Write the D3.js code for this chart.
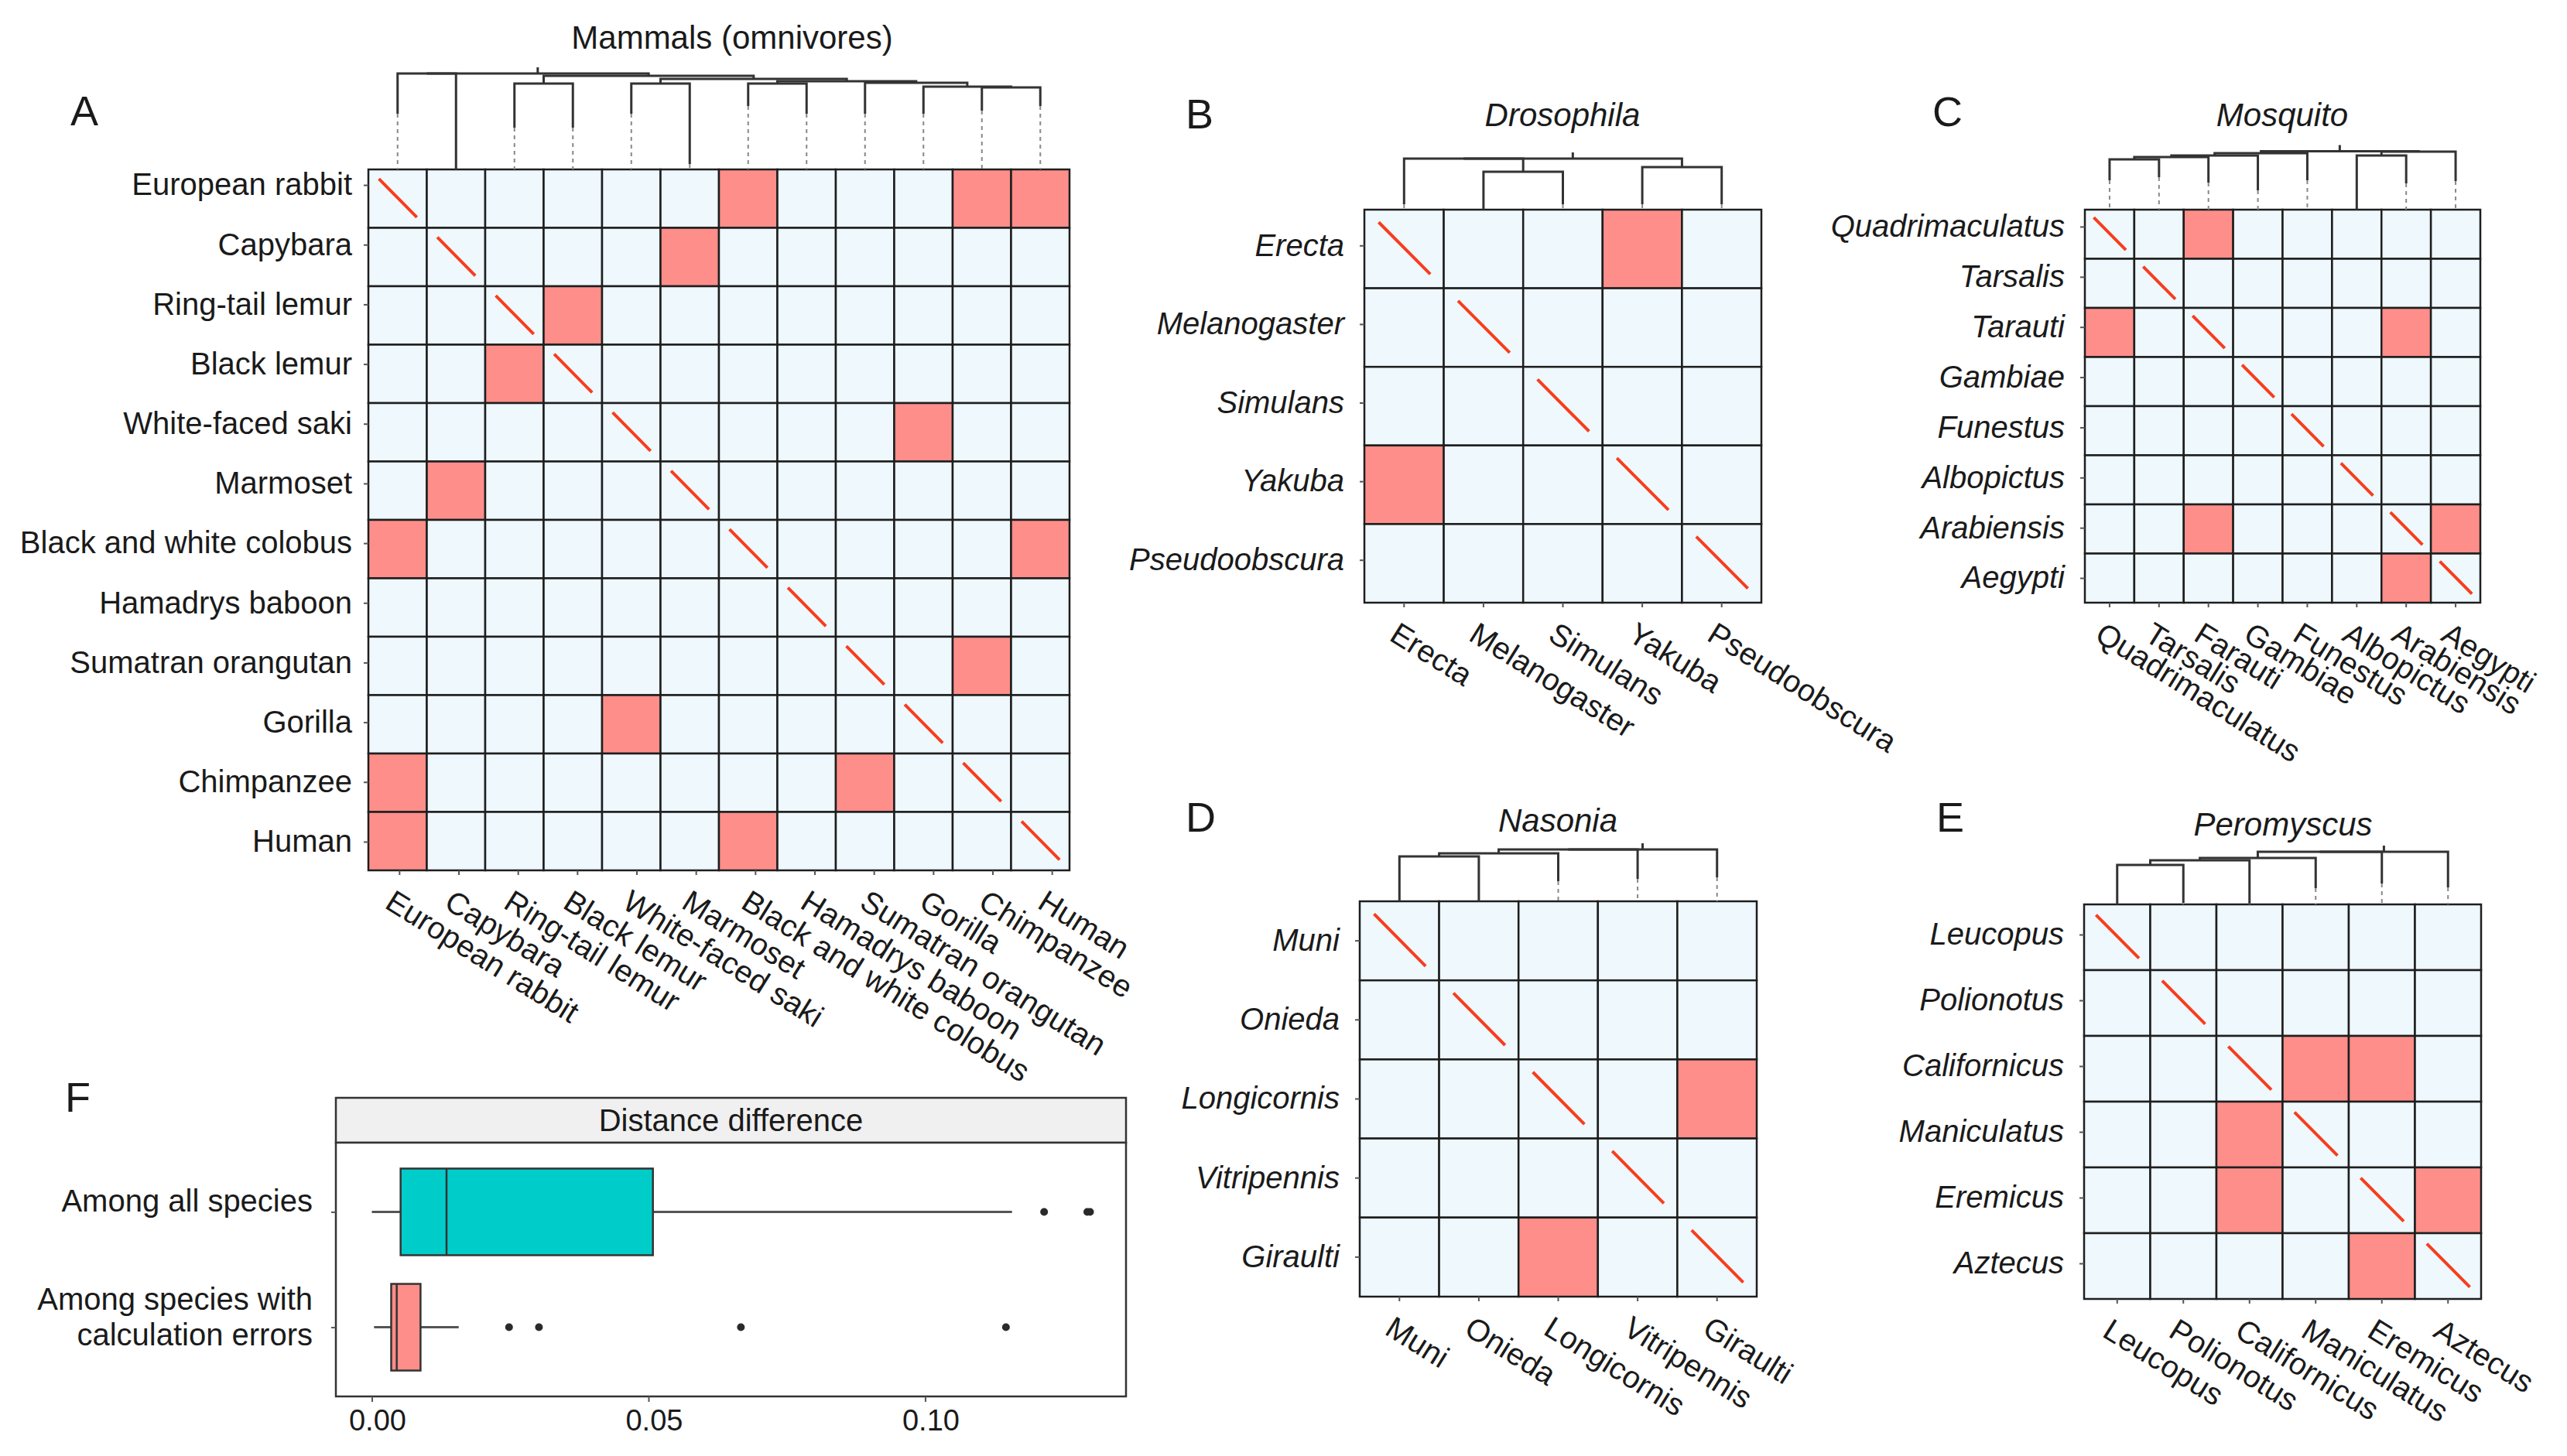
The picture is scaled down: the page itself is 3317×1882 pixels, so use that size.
<!DOCTYPE html>
<html>
<head>
<meta charset="utf-8">
<script src="https://cdn.jsdelivr.net/npm/d3@7"></script>
<style>
body { margin: 0; background: #fff; }
text { font-family: "Liberation Sans", Arial, sans-serif; fill: #1a1a1a; }
</style>
</head>
<body>
<svg id="fig" width="3317" height="1882"></svg>
<script>
// Calculation-error heatmaps with dendrograms, plus distance boxplot

var PINK = "#fd8e89";
var BLUE = "#eef8fd";
var TEAL = "#00cdc9";
var DIAG = "#f83d1c";
var INK = "#1e1e1e";

// ---- panel A: mammals
var mammals = ["European rabbit", "Capybara", "Ring-tail lemur", "Black lemur",
    "White-faced saki", "Marmoset", "Black and white colobus", "Hamadrys baboon",
    "Sumatran orangutan", "Gorilla", "Chimpanzee", "Human"];
var mammalErrors = [[0, 6], [0, 10], [0, 11], [1, 5], [2, 3], [3, 2], [4, 9], [5, 1],
    [6, 0], [6, 11], [8, 10], [9, 4], [10, 0], [10, 8], [11, 0], [11, 6]];
var mammalTips = [72, 0, 54, 54, 72, 7, 82, 72, 72, 72, 76, 82];
var mammalMerges = [[2, 3, 111], [4, 5, 111], [6, 7, 111], [10, 11, 106], [9, "n3", 107],
    [8, "n4", 112], ["n2", "n5", 114], ["n1", "n6", 117], ["n0", "n7", 121],
    [0, 1, 124], ["n9", "n8", 124]];

// ---- panel B: Drosophila
var flies = ["Erecta", "Melanogaster", "Simulans", "Yakuba", "Pseudoobscura"];
var flyErrors = [[0, 3], [3, 0]];
var flyTips = [7, 0, 7, 7, 7];
var flyMerges = [[1, 2, 49], [3, 4, 55], [0, "n0", 66], ["n2", "n1", 66]];

// ---- panel C: mosquito
var mosquitoRows = ["Quadrimaculatus", "Tarsalis", "Tarauti", "Gambiae", "Funestus",
    "Albopictus", "Arabiensis", "Aegypti"];
var mosquitoCols = ["Quadrimaculatus", "Tarsalis", "Farauti", "Gambiae", "Funestus",
    "Albopictus", "Arabiensis", "Aegypti"];
var mosquitoErrors = [[0, 2], [2, 0], [2, 6], [6, 2], [6, 7], [7, 6]];
var mosquitoTips = [38, 42, 35, 25, 38, 0, 34, 37];
var mosquitoMerges = [[0, 1, 65], ["n0", 2, 68], ["n1", 3, 70], ["n2", 4, 73],
    [5, 6, 70], ["n4", 7, 75], ["n3", "n5", 75.5]];

// ---- panel D: Nasonia
var wasps = ["Muni", "Onieda", "Longicornis", "Vitripennis", "Giraulti"];
var waspErrors = [[2, 4], [4, 2]];
var waspTips = [0, 0, 26, 29, 31];
var waspMerges = [[0, 1, 58], ["n0", 2, 62], ["n1", 3, 67], ["n2", 4, 67]];

// ---- panel E: Peromyscus
var mice = ["Leucopus", "Polionotus", "Californicus", "Maniculatus", "Eremicus", "Aztecus"];
var miceErrors = [[2, 3], [2, 4], [3, 2], [4, 2], [4, 5], [5, 4]];
var miceTips = [0, 2, 1, 21, 27, 22];
var miceMerges = [[0, 1, 51], ["n0", 2, 57], ["n1", 3, 60], ["n2", 4, 68], ["n3", 5, 68]];

// ---- panel F: distance difference boxplot
var boxGroups = ["Among all species", "Among species with calculation errors"];
var boxLow = [0.0000, 0.0004];
var boxQ1 = [0.0052, 0.0035];
var boxMedian = [0.0135, 0.0045];
var boxQ3 = [0.0508, 0.0088];
var boxHigh = [0.1157, 0.0157];
var boxOutliers = [[0.1215, 0.1293, 0.1298], [0.0248, 0.0302, 0.0667, 0.1146]];
var boxColors = [TEAL, PINK];
var distTicks = [0, 0.05, 0.10];

var svg = d3.select("#fig");

// lab / labx: shift of the row / column label bands against the grid
var panels = [
    { tag: "A", title: "Mammals (omnivores)", italic: false, rows: mammals, cols: mammals,
      errors: mammalErrors, tips: mammalTips, merges: mammalMerges,
      x0: 476, x1: 1382, y0: 219, y1: 1125, lab: [-18, 2], labx: [2, 16],
      titleX: 946, titleY: 63, tagX: 91, tagY: 162 },
    { tag: "B", title: "Drosophila", italic: true, rows: flies, cols: flies,
      errors: flyErrors, tips: flyTips, merges: flyMerges,
      x0: 1763, x1: 2276, y0: 271, y1: 779, lab: [-4, -4], labx: [0, 0],
      titleX: 2019, titleY: 163, tagX: 1532, tagY: 166 },
    { tag: "C", title: "Mosquito", italic: true, rows: mosquitoRows, cols: mosquitoCols,
      errors: mosquitoErrors, tips: mosquitoTips, merges: mosquitoMerges,
      x0: 2694, x1: 3205, y0: 271, y1: 779, lab: [-10, 1], labx: [0, 0],
      titleX: 2949, titleY: 163, tagX: 2497, tagY: 163 },
    { tag: "D", title: "Nasonia", italic: true, rows: wasps, cols: wasps,
      errors: waspErrors, tips: waspTips, merges: waspMerges,
      x0: 1757, x1: 2270, y0: 1165, y1: 1676, lab: [0, 0], labx: [0, 0],
      titleX: 2013, titleY: 1075, tagX: 1532, tagY: 1075 },
    { tag: "E", title: "Peromyscus", italic: true, rows: mice, cols: mice,
      errors: miceErrors, tips: miceTips, merges: miceMerges,
      x0: 2693, x1: 3206, y0: 1169, y1: 1679, lab: [-3, -3], labx: [0, 0],
      titleX: 2950, titleY: 1080, tagX: 2502, tagY: 1075 }
];

panels.forEach(drawPanel);
drawBoxes();


function drawPanel(p) {
    var g = svg.append("g");
    var n = p.rows.length;

    var x = d3.scaleBand().domain(d3.range(n)).range([p.x0, p.x1]);
    var y = d3.scaleBand().domain(d3.range(n)).range([p.y0, p.y1]);
    var yl = d3.scaleBand().domain(d3.range(n)).range([p.y0 + p.lab[0], p.y1 + p.lab[1]]);
    var xl = d3.scaleBand().domain(d3.range(n)).range([p.x0 + p.labx[0], p.x1 + p.labx[1]]);

    var cells = [];
    for (var r = 0; r < n; r++) {
        for (var c = 0; c < n; c++) {
            var err = p.errors.some(function(e) { return e[0] == r && e[1] == c; });
            cells.push({ r: r, c: c, err: err });
        }
    }

    g.selectAll("rect.cell")
        .data(cells)
        .enter()
        .append("rect")
        .attr("class", "cell")
        .attr("x", function(d) { return x(d.c); })
        .attr("y", function(d) { return y(d.r); })
        .attr("width", x.bandwidth())
        .attr("height", y.bandwidth())
        .attr("fill", function(d) { return d.err ? PINK : BLUE; })
        .attr("stroke", INK)
        .attr("stroke-width", 2.5);

    // red stroke across the self-comparison cells
    g.selectAll("line.diag")
        .data(d3.range(n))
        .enter()
        .append("line")
        .attr("x1", function(i) { return x(i) + 0.18 * x.bandwidth(); })
        .attr("y1", function(i) { return y(i) + 0.16 * y.bandwidth(); })
        .attr("x2", function(i) { return x(i) + 0.83 * x.bandwidth(); })
        .attr("y2", function(i) { return y(i) + 0.82 * y.bandwidth(); })
        .attr("stroke", DIAG)
        .attr("stroke-width", 4);

    var ax = g.append("g")
        .attr("transform", "translate(" + p.x0 + ",0)")
        .call(d3.axisLeft(yl).tickSize(6).tickPadding(p.italic ? 20 : 15)
            .tickFormat(function(i) { return p.rows[i]; }));
    styleAxis(ax);
    ax.selectAll("text")
        .attr("font-style", p.italic ? "italic" : "normal");

    var bx = g.append("g")
        .attr("transform", "translate(0," + p.y1 + ")")
        .call(d3.axisBottom(xl).tickSize(6)
            .tickFormat(function(i) { return p.cols[i]; }));
    styleAxis(bx);
    bx.selectAll("text")
        .attr("x", 0)
        .attr("y", 0)
        .attr("dy", "0.75em")
        .attr("text-anchor", "start")
        .attr("transform", "translate(-5,22) rotate(32)");

    drawDendro(g, p, x);

    g.append("text")
        .attr("x", p.titleX)
        .attr("y", p.titleY)
        .attr("text-anchor", "middle")
        .attr("font-size", 42)
        .attr("font-style", p.italic ? "italic" : "normal")
        .text(p.title);

    g.append("text")
        .attr("x", p.tagX)
        .attr("y", p.tagY)
        .attr("font-size", 54)
        .text(p.tag);
}


function styleAxis(a) {
    a.select(".domain").remove();
    a.selectAll("line").attr("stroke", "#555").attr("stroke-width", 2);
    a.selectAll("text")
        .attr("font-size", 40)
        .attr("font-family", "'Liberation Sans', Arial, sans-serif")
        .attr("fill", "#1a1a1a");
}


// dendrogram: merges are [child, child, height], a child is a leaf index
// or "nK" for the K-th merge

function drawDendro(g, p, x) {
    var maxH = d3.max(p.merges, function(m) { return m[2]; });
    var h = d3.scaleLinear().domain([0, maxH]).range([p.y0, p.y0 - maxH]);
    var nodes = [];

    function pos(ref) {
        if (typeof ref === "number") {
            return { x: x(ref) + x.bandwidth() / 2, h: p.tips[ref] };
        }
        return nodes[+ref.slice(1)];
    }

    // dashed guides from the leaf tips down to the grid
    g.selectAll("line.guide")
        .data(p.tips.map(function(t, i) { return { t: t, i: i }; })
            .filter(function(d) { return d.t > 0; }))
        .enter()
        .append("line")
        .attr("x1", function(d) { return x(d.i) + x.bandwidth() / 2; })
        .attr("x2", function(d) { return x(d.i) + x.bandwidth() / 2; })
        .attr("y1", function(d) { return h(d.t); })
        .attr("y2", p.y0)
        .attr("stroke", "#888")
        .attr("stroke-width", 2)
        .attr("stroke-dasharray", "5,5");

    var paths = [];
    p.merges.forEach(function(m) {
        var a = pos(m[0]);
        var b = pos(m[1]);
        paths.push("M" + a.x + "," + h(a.h) + "V" + h(m[2]) + "H" + b.x + "V" + h(b.h));
        nodes.push({ x: (a.x + b.x) / 2, h: m[2] });
    });
    var root = nodes[nodes.length - 1];
    paths.push("M" + root.x + "," + h(root.h) + "v-8");

    g.selectAll("path.tree")
        .data(paths)
        .enter()
        .append("path")
        .attr("d", function(d) { return d; })
        .attr("fill", "none")
        .attr("stroke", "#333")
        .attr("stroke-width", 3);
}


function drawBoxes() {
    var left = 434, right = 1455, top = 1477, bottom = 1805, stripTop = 1419;
    var g = svg.append("g");

    var x = d3.scaleLinear().domain([-0.0065, 0.1363]).range([left, right]);
    var y = d3.scalePoint().domain(boxGroups).range([top, bottom]).padding(0.6);
    var bw = 112;

    g.append("rect")
        .attr("x", left).attr("y", stripTop)
        .attr("width", right - left).attr("height", top - stripTop)
        .attr("fill", "#f0f0f0").attr("stroke", "#333").attr("stroke-width", 2.5);
    g.append("text")
        .attr("x", (left + right) / 2)
        .attr("y", (stripTop + top) / 2)
        .attr("dy", "0.35em")
        .attr("text-anchor", "middle")
        .attr("font-size", 40)
        .text("Distance difference");

    g.append("rect")
        .attr("x", left).attr("y", top)
        .attr("width", right - left).attr("height", bottom - top)
        .attr("fill", "#fff").attr("stroke", "#333").attr("stroke-width", 2.5);

    var idx = d3.range(boxGroups.length);

    g.selectAll("line.whisker")
        .data(idx)
        .enter()
        .append("line")
        .attr("x1", function(i) { return x(boxLow[i]); })
        .attr("x2", function(i) { return x(boxHigh[i]); })
        .attr("y1", function(i) { return y(boxGroups[i]); })
        .attr("y2", function(i) { return y(boxGroups[i]); })
        .attr("stroke", "#555")
        .attr("stroke-width", 3);

    g.selectAll("rect.box")
        .data(idx)
        .enter()
        .append("rect")
        .attr("x", function(i) { return x(boxQ1[i]); })
        .attr("y", function(i) { return y(boxGroups[i]) - bw / 2; })
        .attr("width", function(i) { return x(boxQ3[i]) - x(boxQ1[i]); })
        .attr("height", bw)
        .attr("fill", function(i) { return boxColors[i]; })
        .attr("stroke", "#333")
        .attr("stroke-width", 2.5);

    g.selectAll("line.median")
        .data(idx)
        .enter()
        .append("line")
        .attr("x1", function(i) { return x(boxMedian[i]); })
        .attr("x2", function(i) { return x(boxMedian[i]); })
        .attr("y1", function(i) { return y(boxGroups[i]) - bw / 2; })
        .attr("y2", function(i) { return y(boxGroups[i]) + bw / 2; })
        .attr("stroke", "#333")
        .attr("stroke-width", 2.5);

    var pts = [];
    boxOutliers.forEach(function(list, i) {
        list.forEach(function(v) { pts.push({ v: v, i: i }); });
    });
    g.selectAll("circle.out")
        .data(pts)
        .enter()
        .append("circle")
        .attr("cx", function(d) { return x(d.v); })
        .attr("cy", function(d) { return y(boxGroups[d.i]); })
        .attr("r", 5)
        .attr("fill", "#2a2a2a");

    var bx = g.append("g")
        .attr("transform", "translate(0," + bottom + ")")
        .call(d3.axisBottom(x).tickValues(distTicks).tickSize(7).tickPadding(10)
            .tickFormat(d3.format(".2f")));
    styleAxis(bx);
    bx.selectAll("text").attr("font-size", 38).attr("dx", 7);

    var ly = g.append("g")
        .attr("transform", "translate(" + left + ",0)")
        .call(d3.axisLeft(y).tickSize(6).tickPadding(15).tickFormat(""));
    styleAxis(ly);

    // category labels, the long one wrapped after "with"
    g.selectAll("text.cat")
        .data(idx)
        .enter()
        .append("text")
        .attr("class", "cat")
        .attr("text-anchor", "end")
        .attr("font-size", 40)
        .each(function(i) {
            var words = boxGroups[i].split(" ");
            var cut = words.indexOf("with");
            var lines = cut < 0 ? [boxGroups[i]]
                : [words.slice(0, cut + 1).join(" "), words.slice(cut + 1).join(" ")];
            var t = d3.select(this);
            lines.forEach(function(l, k) {
                t.append("tspan")
                    .attr("x", left - 30)
                    .attr("y", y(boxGroups[i]) - 14 + (k - (lines.length - 1) / 2) * 46)
                    .attr("dy", "0.35em")
                    .text(l);
            });
        });

    g.append("text")
        .attr("x", 84)
        .attr("y", 1437)
        .attr("font-size", 54)
        .text("F");
}
</script>
</body>
</html>
